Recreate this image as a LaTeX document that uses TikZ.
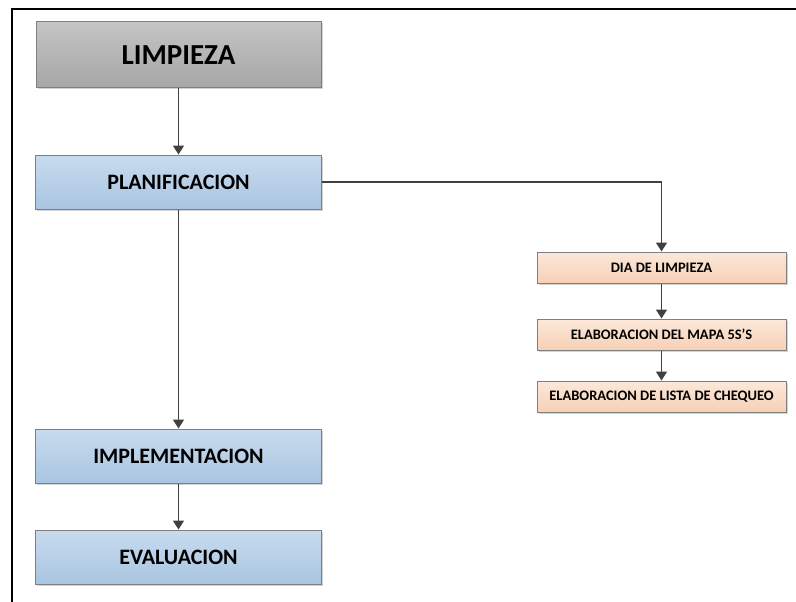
\documentclass[tikz,border=0pt]{standalone}
\usepackage{fontspec}
\setmainfont{Carlito}
\usetikzlibrary{shapes, arrows.meta, positioning, shadows}

\definecolor{grayTop}{HTML}{C4C4C4}
\definecolor{grayBot}{HTML}{A6A6A6}
\definecolor{blueTop}{HTML}{C8DBEE}
\definecolor{blueBot}{HTML}{A9C5E1}
\definecolor{peachTop}{HTML}{FCE8DA}
\definecolor{peachBot}{HTML}{F6D0B6}
\definecolor{edgeGray}{HTML}{7F7F7F}
\definecolor{lineGray}{HTML}{404040}

\begin{document}
\begin{tikzpicture}[
        x=1pt, y=1pt,
        box/.style={rectangle, draw=edgeGray, line width=1pt, inner sep=0pt, font=\bfseries,
            drop shadow={shadow xshift=1.5pt, shadow yshift=-1.5pt, opacity=0.35, fill=gray}},
        title/.style={box, top color=grayTop, bottom color=grayBot, minimum width=285pt, minimum height=66pt, font=\fontsize{29}{34}\selectfont\bfseries},
        phase/.style={box, top color=blueTop, bottom color=blueBot, minimum width=286pt, minimum height=54pt, font=\fontsize{22}{26}\selectfont\bfseries},
        task/.style={box, top color=peachTop, bottom color=peachBot, minimum width=249pt, minimum height=31pt, font=\fontsize{14.5}{17}\selectfont\bfseries},
        line/.style={-{Triangle[width=11pt, length=9pt]}, draw=lineGray, line width=1.6pt}
    ]
        \useasboundingbox (0,0) rectangle (796,-602);
        % Frame
        \draw[line width=2pt] (12,-602) -- (12,-9) -- (796,-9);

        % Main column
        \node[title] (limp) at (178.5,-55) {LIMPIEZA};
        \node[phase, below=66pt of limp] (plan) {PLANIFICACION};
        \node[phase, below=219pt of plan] (impl) {IMPLEMENTACION};
        \node[phase, below=46pt of impl] (eval) {EVALUACION};

        % Planning tasks
        \node[task] (dia) at (661.5,-267.5) {DIA DE LIMPIEZA};
        \node[task, below=35pt of dia] (mapa) {ELABORACION DEL MAPA 5S’S};
        \node[task, below=30pt of mapa] (lista) {ELABORACION DE LISTA DE CHEQUEO};

        \draw[line] (limp) -- (plan);
        \draw[line] (plan) -- (impl);
        \draw[line] (impl) -- (eval);
        \draw[line] (plan.east) -| (dia.north);
        \draw[line] (dia) -- (mapa);
        \draw[line] (mapa) -- (lista);
    \end{tikzpicture}
\end{document}
